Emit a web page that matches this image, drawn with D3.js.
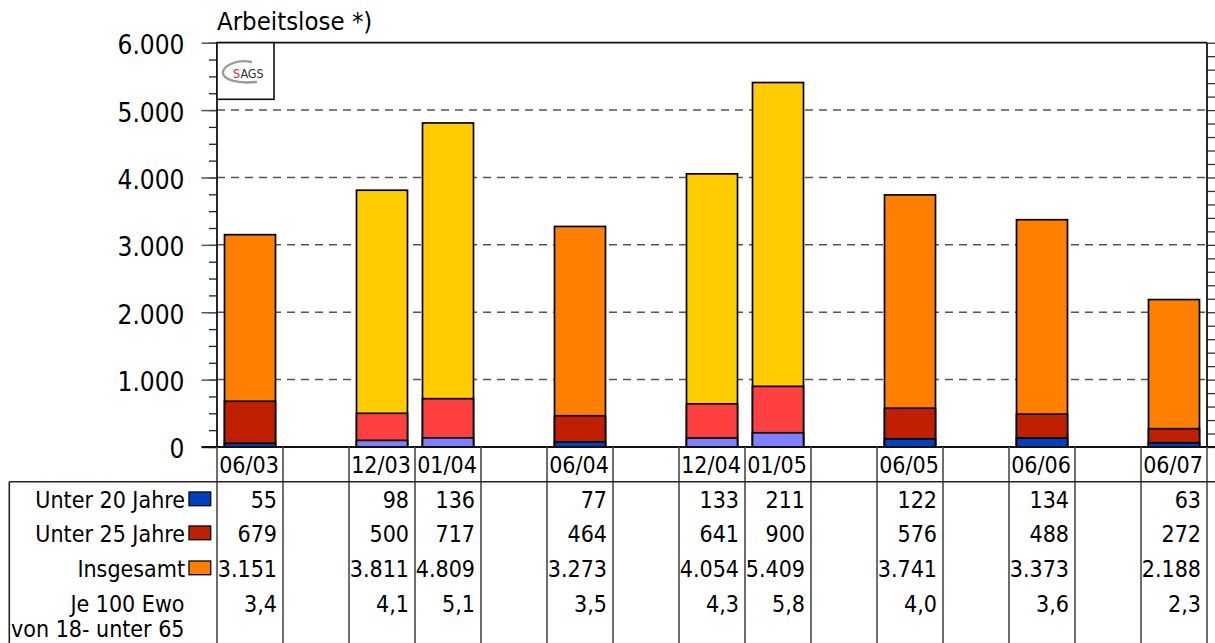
<!DOCTYPE html>
<html>
<head>
<meta charset="utf-8">
<script src="https://cdn.jsdelivr.net/npm/d3@7"></script>
<style>
  html, body { margin: 0; padding: 0; background: #fff; }
  svg { display: block; }
  text { font-family: "DejaVu Sans Condensed", "DejaVu Sans", sans-serif; font-stretch: condensed; fill: #000; }
</style>
</head>
<body>
<svg id="chart" width="1215" height="643"></svg>
<script>
// Survey months (empty strings are spacer columns in the table)
const categories = ["06/03", "", "12/03", "01/04", "", "06/04", "", "12/04", "01/05", "", "06/05", "", "06/06", "", "06/07"];
// Unemployed under 20 years
const under20 = [55, null, 98, 136, null, 77, null, 133, 211, null, 122, null, 134, null, 63];
// Unemployed under 25 years
const under25 = [679, null, 500, 717, null, 464, null, 641, 900, null, 576, null, 488, null, 272];
// Unemployed total
const total = [3151, null, 3811, 4809, null, 3273, null, 4054, 5409, null, 3741, null, 3373, null, 2188];
// Per 100 inhabitants aged 18 to under 65
const perHundred = [3.4, null, 4.1, 5.1, null, 3.5, null, 4.3, 5.8, null, 4.0, null, 3.6, null, 2.3];
// Y axis tick values
const yTicks = [0, 1000, 2000, 3000, 4000, 5000, 6000];

const rowLabels = ["Unter 20 Jahre", "Unter 25 Jahre", "Insgesamt"];
const summerColors = { total: "#FF8000", u25: "#C02000", u20: "#0040C0" };
const winterColors = { total: "#FFCC00", u25: "#FF4040", u20: "#8080FF" };

const de = d3.formatLocale({ decimal: ",", thousands: ".", grouping: [3], currency: ["", " €"] });
const fmtInt = de.format(",d");
const fmtDec = de.format(",.1f");

const svg = d3.select("#chart");

const plotLeft = 217, plotRight = 1207, plotTop = 42.7, plotBottom = 447;
const x = d3.scaleBand().domain(d3.range(categories.length)).range([plotLeft, plotRight]);
const y = d3.scaleLinear().domain([0, 6000]).range([plotBottom, plotTop]);

const isWinter = i => /^(12|01)\//.test(categories[i]);
const colorsFor = i => isWinter(i) ? winterColors : summerColors;

// Title (second line)
svg.append("text").attr("x", 217).attr("y", 30)
  .style("font-size", "25.5px").text("Arbeitslose *)");

// Dashed gridlines
svg.append("g").selectAll("line")
  .data(yTicks.filter(v => v > 0 && v < 6000))
  .join("line")
  .attr("x1", plotLeft).attr("x2", plotRight)
  .attr("y1", d => y(d)).attr("y2", d => y(d))
  .attr("stroke", "#555").attr("stroke-width", 1.5)
  .attr("stroke-dasharray", "8,6");

// Left minor ticks every 250
const leftMinor = d3.axisLeft(y).tickValues(d3.range(0, 6001, 250)).tickSize(8).tickFormat("");
svg.append("g").attr("transform", `translate(${plotLeft},0)`).call(leftMinor)
  .call(g => g.select(".domain").remove())
  .call(g => g.selectAll("line").attr("stroke", "#222").attr("stroke-width", 1.3));

// Left major axis
const leftAxis = d3.axisLeft(y).tickValues(yTicks).tickSize(15.5).tickPadding(17).tickFormat(fmtInt);
svg.append("g").attr("transform", `translate(${plotLeft},0)`).call(leftAxis)
  .call(g => g.select(".domain").remove())
  .call(g => g.selectAll("line").attr("stroke", "#555").attr("stroke-width", 1.5))
  .call(g => g.selectAll("text").style("font-size", "26px").attr("dy", "0.42em").attr("fill", "#000"));

// Right minor ticks every 200
const rightMinor = d3.axisRight(y).tickValues(d3.range(0, 6001, 200)).tickSize(8).tickFormat("");
svg.append("g").attr("transform", `translate(${plotRight},0)`).call(rightMinor)
  .call(g => g.select(".domain").remove())
  .call(g => g.selectAll("line").attr("stroke", "#333").attr("stroke-width", 1.3));

// Bars: overlapping columns from zero, largest first
const barInset = 7.5, barW = 51;
const idx = d3.range(categories.length).filter(i => total[i] != null);
const layers = [
  { key: "total", data: total },
  { key: "u25", data: under25 },
  { key: "u20", data: under20 }
];
layers.forEach(layer => {
  svg.append("g").selectAll("rect")
    .data(idx)
    .join("rect")
    .attr("x", i => x(i) + barInset)
    .attr("width", barW)
    .attr("y", i => y(layer.data[i]))
    .attr("height", i => y(0) - y(layer.data[i]))
    .attr("fill", i => colorsFor(i)[layer.key])
    .attr("stroke", "#000").attr("stroke-width", 1.7);
});

// Plot frame: top, left, right, baseline
const frame = svg.append("g").attr("stroke", "#111").attr("stroke-width", 1.8);
frame.append("line").attr("x1", plotLeft).attr("x2", plotRight).attr("y1", plotTop).attr("y2", plotTop);
frame.append("line").attr("x1", plotLeft).attr("x2", plotLeft).attr("y1", plotTop).attr("y2", plotBottom);
frame.append("line").attr("x1", plotRight).attr("x2", plotRight).attr("y1", plotTop).attr("y2", plotBottom);
frame.append("line").attr("x1", 201.7).attr("x2", plotRight + 8).attr("y1", plotBottom).attr("y2", plotBottom);

// Logo box
const logo = svg.append("g");
logo.append("rect").attr("x", 217).attr("y", 42.7).attr("width", 57).attr("height", 56.6)
  .attr("fill", "#fff").attr("stroke", "#111").attr("stroke-width", 1.6);
logo.append("path")
  .attr("d", "M251,62 C238,59 224,65 223,72 C222,79 236,84 256,82")
  .attr("fill", "none").attr("stroke", "#9a9a9a").attr("stroke-width", 2.4).attr("stroke-linecap", "round");
const logoText = logo.append("text").attr("x", 233).attr("y", 77.5)
  .style("font-size", "12.5px");
logoText.append("tspan").attr("fill", "#e2202a").text("S");
logoText.append("tspan").attr("fill", "#333").text("AGS");

// Table grid
const grid = svg.append("g");
d3.range(categories.length + 1).forEach(k => {
  const xx = k < categories.length ? x(k) : plotRight;
  grid.append("line").attr("x1", xx).attr("x2", xx).attr("y1", plotBottom).attr("y2", 643)
    .attr("stroke", "#4a4a4a").attr("stroke-width", 1.6);
});
grid.append("line").attr("x1", 9.3).attr("x2", 1215).attr("y1", 481.7).attr("y2", 481.7)
  .attr("stroke", "#222").attr("stroke-width", 1.6);
grid.append("line").attr("x1", 9.3).attr("x2", 9.3).attr("y1", 481.7).attr("y2", 643)
  .attr("stroke", "#222").attr("stroke-width", 1.6);

// Column headers
svg.append("g").selectAll("text")
  .data(d3.range(categories.length))
  .join("text")
  .attr("x", i => x(i) + x.bandwidth() / 2 - 1)
  .attr("y", 473.3)
  .attr("text-anchor", "middle")
  .style("font-size", "23px")
  .text(i => categories[i]);

// Table rows
const rowY = [507.7, 541.7, 576.7, 611.7];
const rows = [
  { data: under20, fmt: fmtInt },
  { data: under25, fmt: fmtInt },
  { data: total, fmt: fmtInt },
  { data: perHundred, fmt: fmtDec }
];
rows.forEach((row, r) => {
  svg.append("g").selectAll("text")
    .data(idx)
    .join("text")
    .attr("x", i => x(i) + x.bandwidth() - 6)
    .attr("y", rowY[r])
    .attr("text-anchor", "end")
    .style("font-size", "23px")
    .text(i => row.fmt(row.data[i]));
});

// Row labels with legend swatches
const legendKeys = ["u20", "u25", "total"];
rowLabels.forEach((lab, r) => {
  svg.append("text").attr("x", 185).attr("y", rowY[r]).attr("text-anchor", "end")
    .style("font-size", "23px").text(lab);
  svg.append("rect").attr("x", 189).attr("y", rowY[r] - 15.7).attr("width", 21.7).attr("height", 13.7)
    .attr("fill", summerColors[legendKeys[r]]).attr("stroke", "#111").attr("stroke-width", 1.4);
});
svg.append("text").attr("x", 184.5).attr("y", rowY[3]).attr("text-anchor", "end")
  .style("font-size", "23px").text("Je 100 Ewo");
svg.append("text").attr("x", 184.5).attr("y", 636.7).attr("text-anchor", "end")
  .style("font-size", "23px").text("von 18- unter 65");
</script>
</body>
</html>
